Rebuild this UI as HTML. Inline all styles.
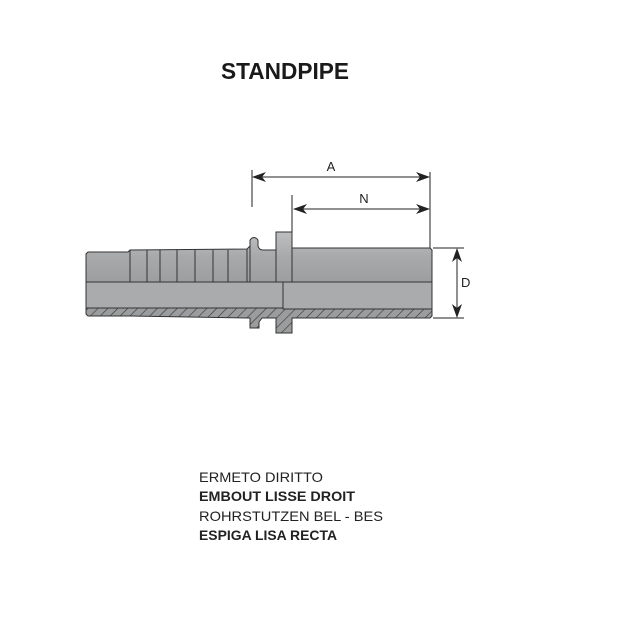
<!DOCTYPE html>
<html><head><meta charset="utf-8"><style>
html,body{margin:0;padding:0;background:#fff;}
svg{display:block;}
</style></head><body>
<svg width="640" height="640" viewBox="0 0 640 640" xmlns="http://www.w3.org/2000/svg">
<defs>
<linearGradient id="g" x1="0" y1="0" x2="0" y2="1">
<stop offset="0" stop-color="#bdbfc1"/><stop offset="0.5" stop-color="#a7a9ab"/><stop offset="1" stop-color="#9c9ea0"/>
</linearGradient>
<pattern id="h" width="7" height="7" patternUnits="userSpaceOnUse" patternTransform="rotate(45)">
<rect width="7" height="7" fill="#9a9c9e"/><line x1="0" y1="0" x2="0" y2="7" stroke="#333" stroke-width="1.2"/>
</pattern>
</defs>
<text x="285" y="79" font-family="Liberation Sans, sans-serif" font-weight="bold" font-size="23" text-anchor="middle" textLength="128" lengthAdjust="spacingAndGlyphs" fill="#1a1a1a">STANDPIPE</text>

<!-- body upper half -->
<path d="M88,252 L128,252 L130,250 L247,249 L250,246 L250,240 Q254,235 258,240 L258,246 Q259,250 263,250 L276,250 L276,232 L292,232 L292,248 L430,248 L432,250 L432,282 L86,282 L86,254 Z" fill="url(#g)" stroke="#333" stroke-width="1"/>
<!-- lower half -->
<path d="M86,282 L432,282 L432,309 L283,309 L283,282 Z" fill="#a9abad" stroke="#333" stroke-width="1"/>
<path d="M86,282 L283,282 L283,308 L86,308 Z" fill="#a9abad" stroke="#333" stroke-width="1"/>
<!-- hatch band -->
<path d="M86,308 L283,308 L283,309 L432,309 L432,316 L430,318 L292,318 L292,333 L276,333 L276,318 L262,318 L259,322 L259,328 L250,328 L250,318 L247,318 L130,316 L88,316 L86,314 Z" fill="url(#h)" stroke="#333" stroke-width="1"/>
<!-- ribs -->
<g stroke="#333" stroke-width="1">
<line x1="130" y1="250" x2="130" y2="282"/><line x1="147" y1="250" x2="147" y2="282"/>
<line x1="160" y1="250" x2="160" y2="282"/><line x1="177" y1="250" x2="177" y2="282"/>
<line x1="195" y1="250" x2="195" y2="282"/><line x1="213" y1="250" x2="213" y2="282"/>
<line x1="228" y1="250" x2="228" y2="282"/><line x1="247" y1="249" x2="247" y2="282"/>
<line x1="250" y1="246" x2="250" y2="282"/><line x1="276" y1="250" x2="276" y2="282"/>
<line x1="292" y1="248" x2="292" y2="282"/>
</g>
<!-- dimensions -->
<g stroke="#222" stroke-width="1" fill="none">
<line x1="252" y1="170" x2="252" y2="207"/>
<line x1="292" y1="195" x2="292" y2="232"/>
<line x1="430" y1="172" x2="430" y2="248"/>
<line x1="254" y1="177" x2="428" y2="177"/>
<line x1="294" y1="209" x2="428" y2="209"/>
<line x1="433" y1="248" x2="464" y2="248"/>
<line x1="433" y1="318" x2="464" y2="318"/>
<line x1="457" y1="250" x2="457" y2="316"/>
</g>
<g fill="#222">
<path d="M252,177 L266,172 L262,177 L266,182 Z"/>
<path d="M430,177 L416,172 L420,177 L416,182 Z"/>
<path d="M293,209 L307,204 L303,209 L307,214 Z"/>
<path d="M430,209 L416,204 L420,209 L416,214 Z"/>
<path d="M457,248 L452,262 L457,258 L462,262 Z"/>
<path d="M457,318 L452,304 L457,308 L462,304 Z"/>
</g>
<g font-family="Liberation Sans, sans-serif" font-size="13" fill="#222">
<text x="331" y="171" text-anchor="middle">A</text>
<text x="364" y="203" text-anchor="middle">N</text>
<text x="461" y="287">D</text>
</g>
<g font-family="Liberation Sans, sans-serif" font-size="14" fill="#222">
<text x="199" y="482" textLength="124" lengthAdjust="spacingAndGlyphs">ERMETO DIRITTO</text>
<text x="199" y="501" font-weight="bold" textLength="156" lengthAdjust="spacingAndGlyphs">EMBOUT LISSE DROIT</text>
<text x="199" y="521" textLength="184" lengthAdjust="spacingAndGlyphs">ROHRSTUTZEN BEL - BES</text>
<text x="199" y="540" font-weight="bold" textLength="138" lengthAdjust="spacingAndGlyphs">ESPIGA LISA RECTA</text>
</g>
</svg>
</body></html>
